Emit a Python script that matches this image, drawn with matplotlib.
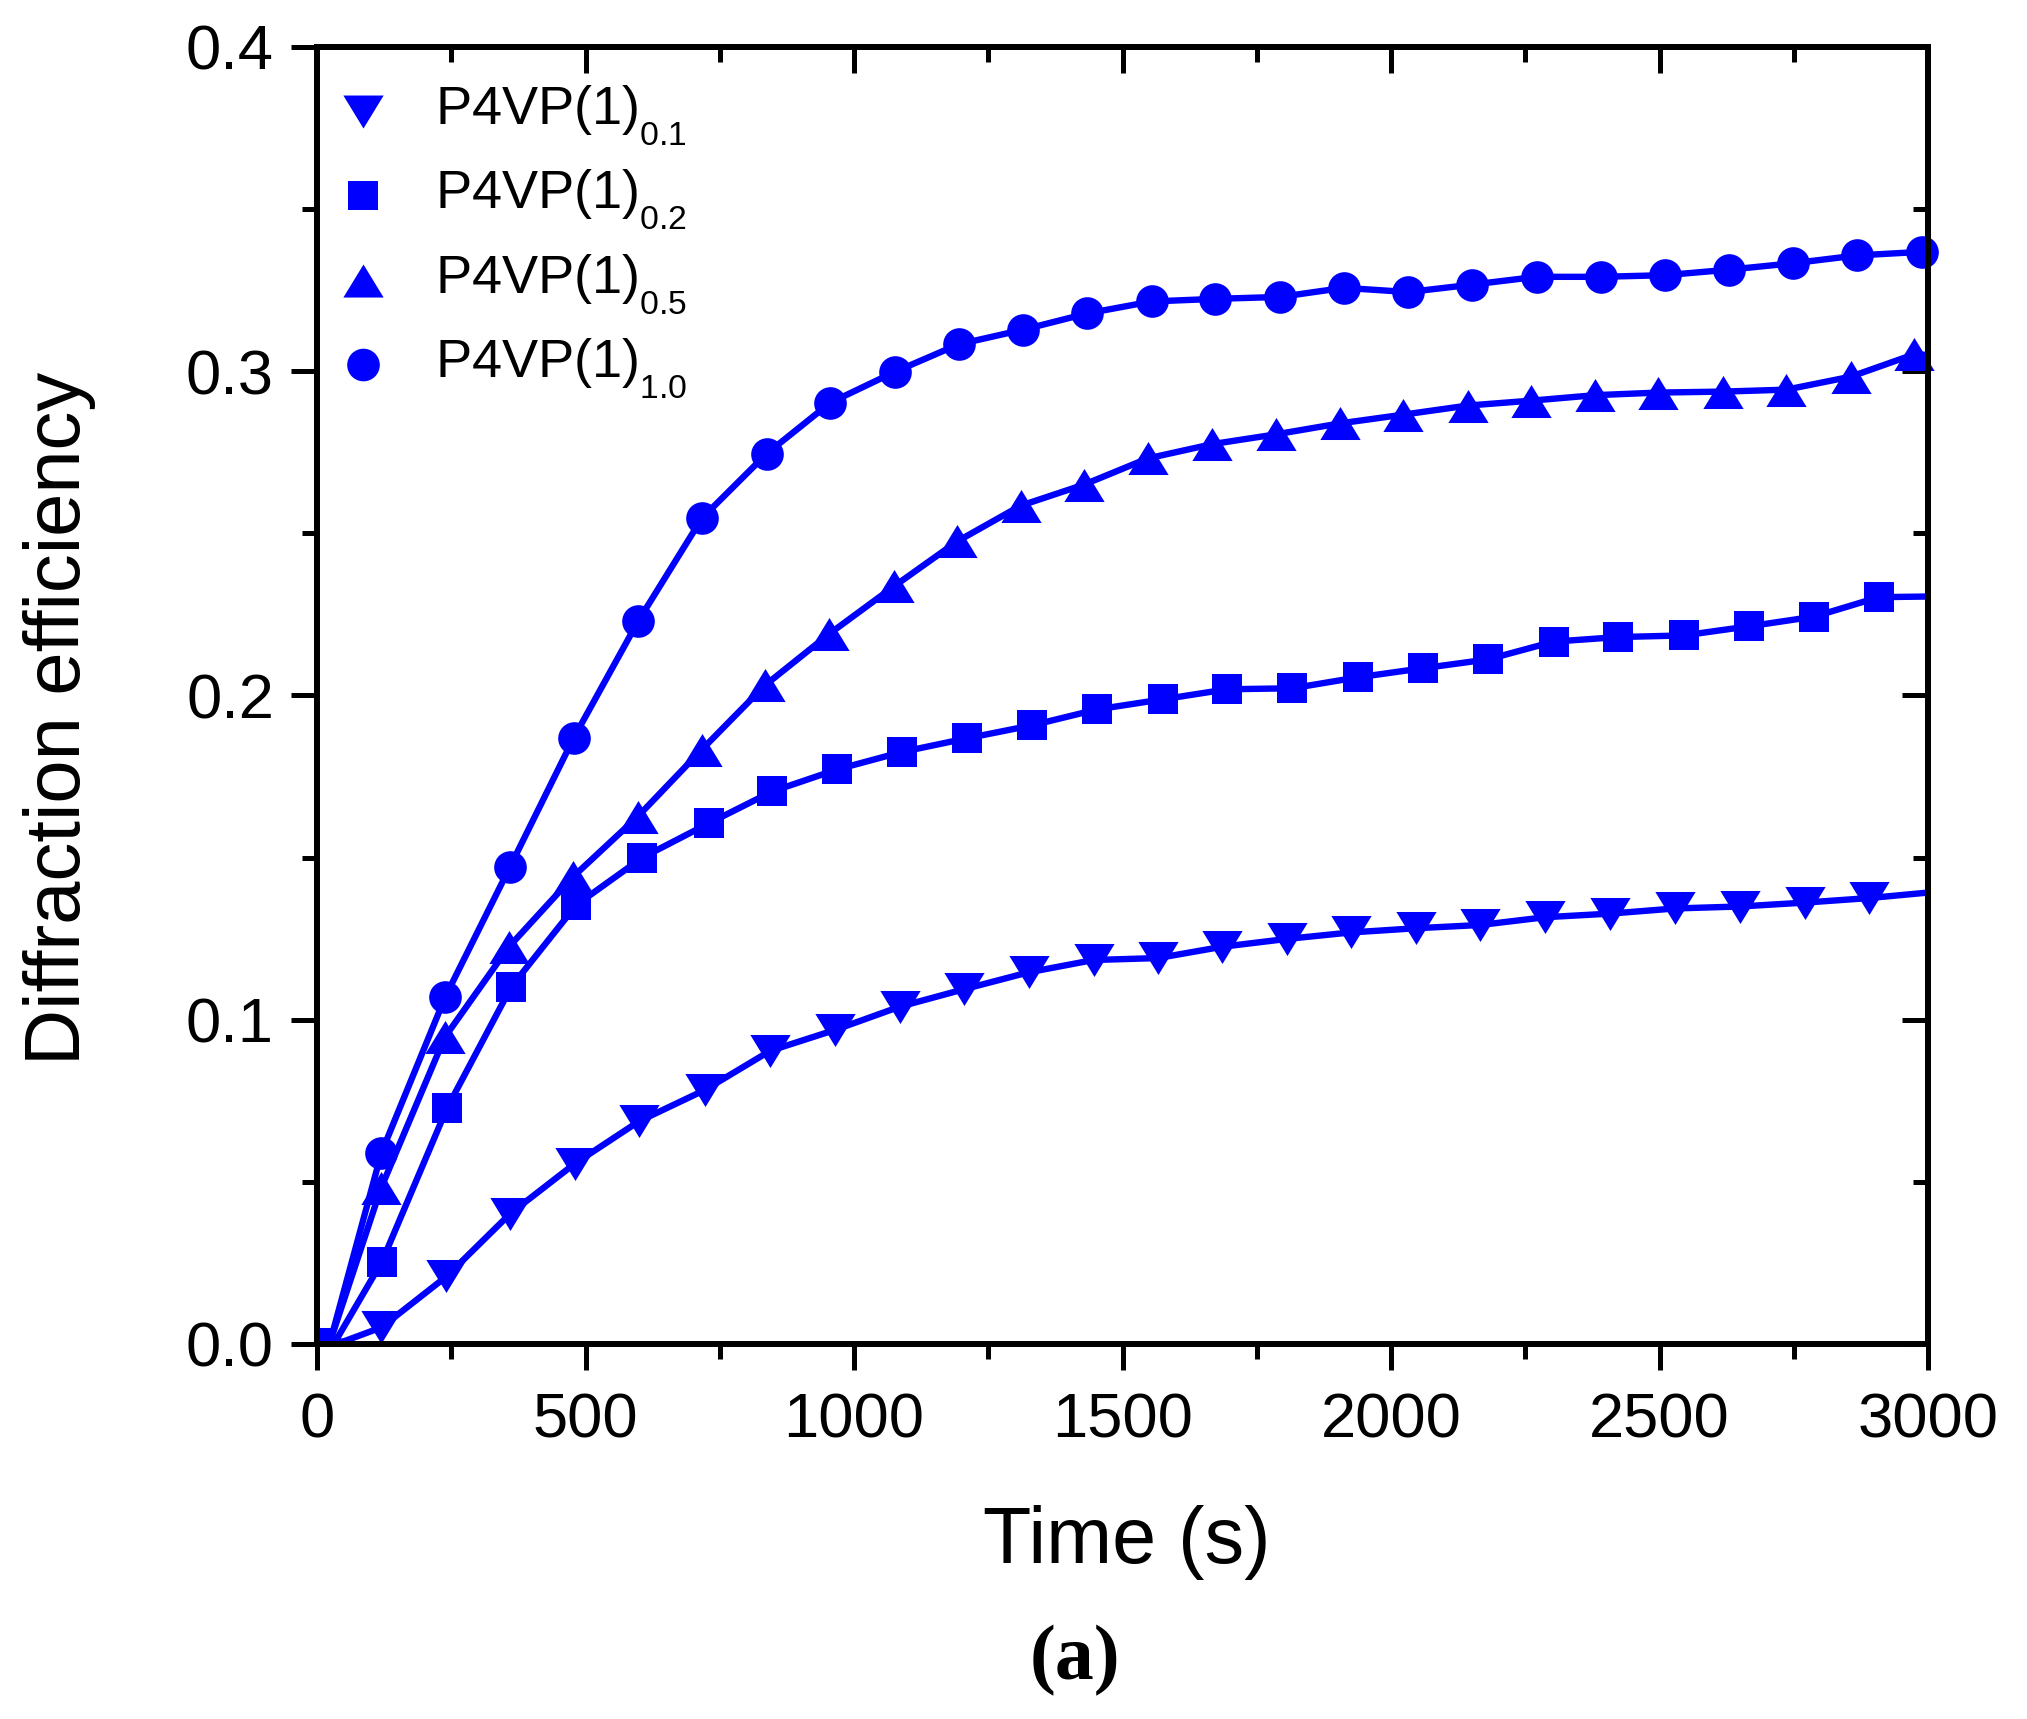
import matplotlib
matplotlib.use('Agg')
import matplotlib.pyplot as plt
from matplotlib.lines import Line2D
from matplotlib.markers import MarkerStyle
from matplotlib.transforms import Affine2D
from matplotlib.ticker import MultipleLocator

plt.rcParams['font.family'] = ['Liberation Sans', 'DejaVu Sans']
plt.rcParams['mathtext.fontset'] = 'custom'
plt.rcParams['mathtext.rm'] = 'Liberation Sans'
plt.rcParams['mathtext.default'] = 'regular'

# deeper, smaller subscripts like the Origin legend
try:
    import matplotlib._mathtext as _mt
    _mt.FontConstantsBase.sub1 = 0.75
    _mt.FontConstantsBase.subdrop = 0.75
    _mt.SHRINK_FACTOR = 0.62
except Exception:
    pass

# ---------------- data ----------------
t_01 = [0, 120, 241, 360, 480, 600, 722, 844, 964, 1085, 1205, 1325, 1446,
        1566, 1686, 1806, 1925, 2047, 2166, 2287, 2407, 2529, 2649, 2770, 2890]
de_01 = [0, 0.0051, 0.0208, 0.0402, 0.0556, 0.0687, 0.0783, 0.0904, 0.0968,
         0.1040, 0.1094, 0.1146, 0.1184, 0.1190, 0.1225, 0.1249, 0.1269,
         0.1282, 0.1292, 0.1316, 0.1327, 0.1343, 0.1349, 0.1361, 0.1375]

t_02 = [0, 121, 242, 362, 483, 606, 730, 848, 969, 1090, 1211, 1332, 1453,
        1575, 1695, 1816, 1939, 2060, 2180, 2303, 2423, 2545, 2666, 2788, 2908]
de_02 = [0, 0.0254, 0.0727, 0.1102, 0.1354, 0.1500, 0.1606, 0.1704, 0.1772,
         0.1826, 0.1868, 0.1908, 0.1957, 0.1988, 0.2019, 0.2022, 0.2056,
         0.2084, 0.2111, 0.2166, 0.2180, 0.2185, 0.2213, 0.2243, 0.2303]

t_05 = [0, 119, 238, 357, 477, 597, 716, 834, 954, 1074, 1192, 1310, 1428,
        1547, 1667, 1785, 1905, 2023, 2143, 2260, 2380, 2498, 2618, 2736,
        2856, 2974]
de_05 = [0, 0.0480, 0.0946, 0.1224, 0.1441, 0.1626, 0.1832, 0.2031, 0.2190,
         0.2336, 0.2475, 0.2585, 0.2650, 0.2731, 0.2775, 0.2805, 0.2839,
         0.2866, 0.2894, 0.2909, 0.2926, 0.2934, 0.2937, 0.2943, 0.2983,
         0.3052]

t_10 = [0, 120, 239, 359, 478, 598, 717, 837, 956, 1076, 1195, 1315, 1434,
        1554, 1673, 1793, 1912, 2032, 2151, 2271, 2390, 2510, 2629, 2749,
        2868, 2988]
de_10 = [0, 0.0590, 0.1071, 0.1470, 0.1869, 0.2229, 0.2547, 0.2745, 0.2903,
         0.2998, 0.3083, 0.3128, 0.3178, 0.3215, 0.3223, 0.3229, 0.3257,
         0.3244, 0.3267, 0.3291, 0.3291, 0.3296, 0.3313, 0.3333, 0.3357,
         0.3368]

# fitted curves: foot near the origin and value where they meet x = 3000
fit_head_t = [50, 35, 25, 25]
fit_head_v = [0.0008, 0.0010, 0.0010, 0.0010]
fit_end_t = 3000
fit_end_v = [0.1392, 0.2305, 0.3050, 0.3370]

labels = ['P4VP(1)$_{0.1}$', 'P4VP(1)$_{0.2}$', 'P4VP(1)$_{0.5}$',
          'P4VP(1)$_{1.0}$']

xticks = [0, 500, 1000, 1500, 2000, 2500, 3000]
xtick_labels = ['0', '500', '1000', '1500', '2000', '2500', '3000']
yticks = [0.0, 0.1, 0.2, 0.3, 0.4]
ytick_labels = ['0.0', '0.1', '0.2', '0.3', '0.4']

# ---------------- styling ----------------
BLUE = '#0000FF'
tri_down = [(-1, 0.82), (1, 0.82), (0, -0.82)]
tri_up = [(-1, -0.82), (1, -0.82), (0, 0.82)]
markers = [tri_down, 's', tri_up, 'o']
msizes = [29, 21.5, 29, 23.5]
legend_drop_pt = 4.7   # legend symbols sit a little lower than the text centre

fig = plt.figure(figsize=(20.27, 17.19), dpi=100)
ax = fig.add_axes([0.1564, 0.2182, 0.7948, 0.7545])

series_t = [t_01, t_02, t_05, t_10]
series_v = [de_01, de_02, de_05, de_10]

handles = []
for i in range(4):
    t = series_t[i]
    v = series_v[i]
    lx = [t[0], fit_head_t[i]] + t[1:] + [fit_end_t]
    ly = [v[0], fit_head_v[i]] + v[1:] + [fit_end_v[i]]
    ax.plot(lx, ly, '-', color=BLUE, lw=4.6, solid_joinstyle='round',
            solid_capstyle='round', zorder=2)
    ax.plot(t[1:], v[1:], linestyle='none', marker=markers[i],
            markersize=msizes[i], color=BLUE, markeredgewidth=0,
            clip_on=False, zorder=3)
    ax.plot(t[:1], v[:1], linestyle='none', marker=markers[i],
            markersize=msizes[i], color=BLUE, markeredgewidth=0,
            clip_on=True, zorder=3)
    leg_marker = MarkerStyle(markers[i],
                             transform=Affine2D().translate(
                                 0, -legend_drop_pt / msizes[i]))
    handles.append(Line2D([], [], linestyle='none', marker=leg_marker,
                          markersize=msizes[i], color=BLUE,
                          markeredgewidth=0, label=labels[i]))

ax.set_xlim(0, 3000)
ax.set_ylim(0, 0.4)
ax.set_xticks(xticks)
ax.set_xticklabels(xtick_labels)
ax.set_yticks(yticks)
ax.set_yticklabels(ytick_labels)
ax.xaxis.set_minor_locator(MultipleLocator(250))
ax.yaxis.set_minor_locator(MultipleLocator(0.05))

SPW = 4.3
for s in ax.spines.values():
    s.set_linewidth(SPW)
    s.set_zorder(4)

ax.tick_params(which='both', direction='out', width=3.6, top=False,
               right=False, labelsize=45.5)
ax.tick_params(which='major', length=19)
ax.tick_params(which='minor', length=10.5)
ax.tick_params(axis='x', which='major', pad=15)
ax.tick_params(axis='y', which='major', pad=12)

secx = ax.secondary_xaxis('top')
secx.set_xticks(xticks)
secx.xaxis.set_minor_locator(MultipleLocator(250))
secx.tick_params(which='both', direction='in', width=3.6, labeltop=False)
secx.tick_params(which='major', length=19)
secx.tick_params(which='minor', length=10.5)
for s in secx.spines.values():
    s.set_linewidth(SPW)

secy = ax.secondary_yaxis('right')
secy.set_yticks(yticks)
secy.yaxis.set_minor_locator(MultipleLocator(0.05))
secy.tick_params(which='both', direction='in', width=3.6, labelright=False)
secy.tick_params(which='major', length=19)
secy.tick_params(which='minor', length=10.5)
for s in secy.spines.values():
    s.set_linewidth(SPW)

leg = ax.legend(handles=handles, loc='upper left',
                bbox_to_anchor=(0.012, 0.972), frameon=False,
                fontsize=39, handlelength=1.0, handletextpad=0.82,
                labelspacing=0.39, borderpad=0, borderaxespad=0,
                markerscale=1.0)

fig.text(0.556, 0.1025, 'Time (s)', ha='center', va='center', fontsize=57)
fig.text(0.0296, 0.582, 'Diffraction efficiency', ha='center', va='center',
         rotation=90, fontsize=56)
fig.text(0.5305, 0.0337, '(a)', ha='center', va='center', fontsize=56,
         family=['Liberation Serif', 'DejaVu Serif'], weight='bold')

fig.savefig('out.png', dpi=100)
